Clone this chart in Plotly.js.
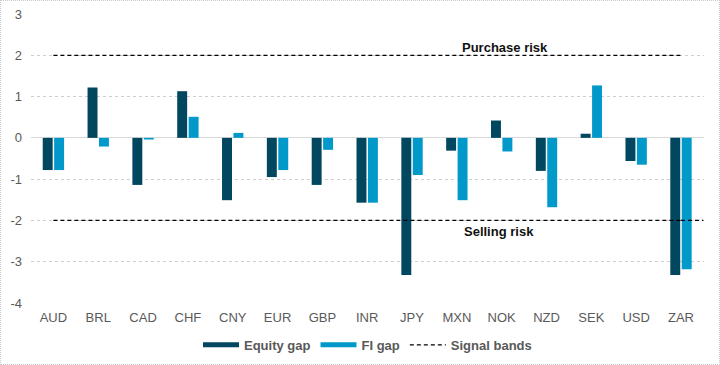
<!DOCTYPE html>
<html>
<head>
<meta charset="utf-8">
<script src="https://cdn.plot.ly/plotly-3.0.1.min.js"></script>
<style>
html,body{margin:0;padding:0;background:#fff;}
#chart{width:720px;height:365px;outline:1px dotted #c8c8c8;outline-offset:-1px;}
</style>
</head>
<body>
<div id="chart"></div>
<script>
var categories = ["AUD","BRL","CAD","CHF","CNY","EUR","GBP","INR","JPY","MXN","NOK","NZD","SEK","USD","ZAR"];
var equityGap = [-0.78, 1.22, -1.14, 1.13, -1.51, -0.95, -1.14, -1.57, -3.32, -0.31, 0.42, -0.80, 0.10, -0.56, -3.32];
var fiGap     = [-0.78, -0.21, -0.04, 0.51, 0.12, -0.78, -0.29, -1.57, -0.90, -1.51, -0.33, -1.68, 1.27, -0.65, -3.18];
var upperBand = 2;
var lowerBand = -2;
var yTicks = [-4, -3, -2, -1, 0, 1, 2, 3];
var seriesNames = ["Equity gap", "FI gap", "Signal bands"];

var FONT = "Liberation Sans, Arial, sans-serif";
var EQ = "#00475f", FI = "#0099c9";
var DASH = {color:"#000000", width:1.2, dash:"4px,3px"};
var traces = [
  {type:"bar", name:seriesNames[0], x:categories, y:equityGap, marker:{color:EQ}, showlegend:false},
  {type:"bar", name:seriesNames[1], x:categories, y:fiGap, marker:{color:FI}, showlegend:false},
  {type:"scatter", mode:"lines", name:seriesNames[2], x:categories, y:categories.map(function(){return upperBand;}),
   line:DASH, showlegend:false, hoverinfo:"skip"},
  {type:"scatter", mode:"lines", name:seriesNames[2], x:categories, y:categories.map(function(){return lowerBand;}),
   line:DASH, showlegend:false, hoverinfo:"skip"},
  // legend-only entries
  {type:"scatter", mode:"lines", name:seriesNames[0], x:[null], y:[null], line:{color:EQ, width:5}},
  {type:"scatter", mode:"lines", name:seriesNames[1], x:[null], y:[null], line:{color:FI, width:5}},
  {type:"scatter", mode:"lines", name:seriesNames[2], x:[null], y:[null], line:DASH}
];

var layout = {
  width:720, height:365,
  margin:{l:31, r:16, t:14, b:62},
  paper_bgcolor:"rgba(0,0,0,0)", plot_bgcolor:"#ffffff",
  font:{family:FONT, size:13, color:"#595959"},
  barmode:"group", bargap:0.49, bargroupgap:0.13,
  showlegend:true,
  legend:{orientation:"h", x:0.5, xanchor:"center", yref:"container", y:0.055, yanchor:"middle",
          font:{family:FONT, size:13, color:"#595959", weight:"bold"}, traceorder:"normal",
          itemwidth:36, tracegroupgap:0},
  xaxis:{type:"category", tickfont:{family:FONT, size:13, color:"#595959"}, ticks:"", showgrid:false,
         showline:false, zeroline:false, ticklabelstandoff:5},
  yaxis:{range:[-4,3], tickvals:yTicks, ticktext:yTicks.map(String), showgrid:true, gridcolor:"#cfcfcf",
         griddash:"dot", gridwidth:1, zeroline:true, zerolinecolor:"#d9d9d9", zerolinewidth:1,
         tickfont:{family:FONT, size:13, color:"#595959"}, ticks:"", showline:false, ticklabelstandoff:8},
  shapes:[
    {type:"line", xref:"x", yref:"y", x0:14, x1:14.5, y0:lowerBand, y1:lowerBand, line:DASH}
  ],
  annotations:[
    {text:"Purchase risk", xref:"paper", yref:"y", x:0.704, y:upperBand, xanchor:"center", yanchor:"bottom",
     yshift:-2, showarrow:false, font:{family:FONT, size:13, color:"#111111", weight:"bold"}},
    {text:"Selling risk", xref:"paper", yref:"y", x:0.695, y:lowerBand, xanchor:"center", yanchor:"top",
     yshift:-2, showarrow:false, font:{family:FONT, size:13, color:"#111111", weight:"bold"}}
  ]
};

Plotly.newPlot("chart", traces, layout, {displayModeBar:false, staticPlot:true});
</script>
</body>
</html>
